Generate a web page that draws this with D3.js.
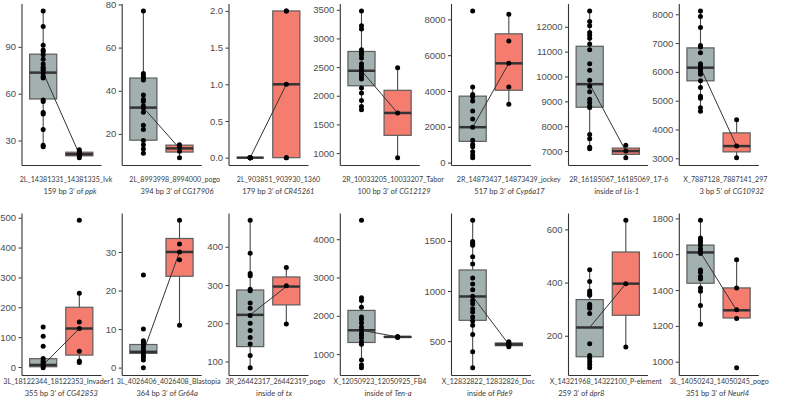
<!DOCTYPE html>
<html><head><meta charset="utf-8">
<script src="https://cdn.jsdelivr.net/npm/d3@7"></script>
<style>body{margin:0;background:#fff}svg{display:block}</style>
</head><body><svg id="chart" width="791" height="400"></svg>
<script>
// ---------------- DATA ----------------
const siteNames = [
  "2L_14381331_14381335_Ivk", "2L_8993998_8994000_pogo", "2L_903851_903930_1360",
  "2R_10033205_10033207_Tabor", "2R_14873437_14873439_jockey", "2R_16185067_16185069_17-6",
  "X_7887128_7887141_297",
  "3L_18122344_18122353_Invader1", "3L_4026406_4026408_Blastopia", "3R_26442317_26442319_pogo",
  "X_12050923_12050925_FB4", "X_12832822_12832826_Doc", "X_14321968_14322100_P-element",
  "3L_14050243_14050245_pogo"
];
const notePrefix = [
  "159 bp 3\u2019 of ", "394 bp 3\u2019 of ", "179 bp 3\u2019 of ", "100 bp 3\u2019 of ",
  "517 bp 3\u2019 of ", "inside of ", "3 bp 5\u2019 of ",
  "355 bp 3\u2019 of ", "364 bp 3\u2019 of ", "inside of ", "inside of ", "inside of ",
  "259 3\u2019 of ", "351 bp 3\u2019 of "
];
const geneNames = [
  "ppk", "CG17906", "CR45261", "CG12129", "Cyp6a17", "Lis-1", "CG10932",
  "CG42853", "Gr64a", "tx", "Ten-a", "Pde9", "dpr8", "Neurl4"
];
const groups = ["grey", "red"];
const yTickLabels = [
  ["30", "60", "90"],
  ["20", "40", "60", "80"],
  ["0.0", "0.5", "1.0", "1.5", "2.0"],
  ["1000", "1500", "2000", "2500", "3000", "3500"],
  ["0", "2000", "4000", "6000", "8000"],
  ["7000", "8000", "9000", "10000", "11000", "12000"],
  ["3000", "4000", "5000", "6000", "7000", "8000"],
  ["0", "100", "200", "300", "400", "500"],
  ["0", "10", "20", "30"],
  ["100", "200", "300", "400"],
  ["1000", "2000", "3000", "4000"],
  ["500", "1000", "1500"],
  ["200", "400", "600"],
  ["1000", "1200", "1400", "1600", "1800"]
];
const greyPoints = [
  [113, 103, 91, 88, 87, 85, 82, 79, 77, 76, 75, 73, 71, 70, 56, 55, 48, 47, 37, 27, 26],
  [77, 48, 47, 46, 45, 38, 36, 35, 33, 32, 30, 24, 22, 17, 15, 13, 11],
  [0, 0, 0, 0, 0, 0, 0, 0],
  [3480, 3221, 3163, 2802, 2755, 2715, 2657, 2558, 2511, 2465, 2424, 2384, 2337, 2291, 2134, 2047, 1918, 1812, 1756],
  [8473, 4228, 3805, 3680, 3438, 2889, 2433, 1977, 1241, 1021, 879, 604, 417, 275],
  [12637, 12211, 12040, 11773, 11670, 11534, 11311, 11072, 10515, 10249, 9851, 9612, 9386, 9082, 8952, 8816, 8753, 7662, 7491, 7157, 7093],
  [8116, 7921, 7543, 6915, 6867, 6661, 6284, 6205, 6091, 6009, 5920, 5690, 5460, 5150, 5082, 4752, 4636],
  [134, 103, 70, 29, 20, 15, 9, 3, -2],
  [24, 10, 7, 6.5, 6, 5.2, 4.5, 4, 3.3, 2.7, 2, 0],
  [469, 383, 330, 324, 289, 285, 253, 239, 220, 200, 181, 163, 146, 116, 84],
  [4492, 2470, 2400, 2226, 1967, 1900, 1812, 1708, 1640, 1553, 1493, 1423, 1320, 1259, 844, 715, 646],
  [1705, 1493, 1475, 1457, 1342, 1269, 1131, 1071, 1012, 948, 906, 873, 824, 790, 741, 700, 658, 566, 394, 236],
  [448, 404, 368, 360, 352, 318, 310, 303, 284, 170, 126, 115, 103, 92, 80],
  [1789, 1690, 1679, 1666, 1650, 1630, 1615, 1604, 1512, 1499, 1475, 1462, 1412, 1394, 1314, 1209]
];
const redPoints = [
  [19, 20, 21, 21, 22, 23, 24],
  [9, 12, 14, 15],
  [0, 0, 1, 2, 2],
  [920, 1700, 2490],
  [8292, 6788, 5546, 4228, 3256],
  [6735, 7000, 7237],
  [3022, 3424, 4341],
  [491, 247, 151, 129, 53, 20, 15],
  [38.2, 32.1, 30, 28, 11],
  [346, 298, 198],
  [1430, 1449, 1460],
  [444, 460, 468, 478, 493],
  [634, 396, 158],
  [1569, 1412, 1290, 1241, 967]
];
// box stats: [lower whisker, q1, median, q3, upper whisker]
const greyBoxes = [
  [26, 56.6, 73.5, 85.3, 113],
  [11, 17.1, 32.2, 45.9, 77],
  [0, 0, 0, 0, 0],
  [1756, 2174, 2436, 2773, 3480],
  [275, 1186, 1977, 3712, 4228],
  [7093, 8765, 9692, 11216, 12637],
  [4636, 5690, 6146, 6833, 8116],
  [-2, 1, 7, 28, 29],
  [2, 3.7, 4.1, 6, 7],
  [84, 139, 222, 287, 469],
  [646, 1303, 1622, 2141, 2470],
  [236, 708, 946, 1210, 1705],
  [80, 121, 231, 336, 448],
  [1209, 1438, 1610, 1651, 1789]
];
const redBoxes = [
  [19, 20.2, 21.2, 22.5, 24],
  [9, 11.6, 13.3, 14.8, 15],
  [0, 0, 1, 2, 2],
  [920, 1310, 1700, 2095, 2490],
  [3256, 4042, 5546, 7194, 8292],
  [6735, 6868, 7000, 7119, 7237],
  [3022, 3223, 3424, 3882, 4341],
  [15, 40, 129, 200, 247],
  [11, 23.7, 30, 33.5, 38.2],
  [198, 248, 296, 321, 346],
  [1430, 1440, 1449, 1455, 1460],
  [444, 455, 468, 482, 493],
  [158, 277, 396, 515, 634],
  [1241, 1244, 1287, 1412, 1569]
];

// ---------------- LAYOUT ----------------
const colLeft = [21.5, 121.7, 228.5, 339.8, 451, 568, 678.8];
const panelW = 79.5;
const rowsY = [{top: 3.6, bottom: 165, base1: 182.3, base2: 194.2},
               {top: 213, bottom: 375, base1: 384.3, base2: 396.3}];
const label1X = [66, 174.7, 278.5, 393, 508.8, 618.7, 725.3,
                 58.7, 168.7, 275.3, 380, 488.3, 605.8, 719.2];
const label2X = [70, 177, 278.3, 394, 509.5, 616.7, 731.7,
                 61.3, 167.2, 274, 388, 489.7, 581.3, 717.5];

const fills = {grey: "#A2B1B0", red: "#F47D70"};

const svg = d3.select("#chart");

siteNames.forEach((name, i) => {
  const row = Math.floor(i / 7), col = i % 7;
  const R = rowsY[row];
  const left = colLeft[col];
  const gp = greyPoints[i], rp = redPoints[i];
  const gb = greyBoxes[i], rb = redBoxes[i];
  const all = gp.concat(rp, gb, rb);
  const [mn, mx] = d3.extent(all);
  const pad = (mx - mn) * 0.05;
  const y = d3.scaleLinear().domain([mn - pad, mx + pad]).range([R.bottom, R.top]);
  const x = d3.scalePoint().domain(groups).range([left, left + panelW]).padding(0.6);
  const bw = x.step() * 0.75;

  const g = svg.append("g");

  const boxes = [{grp: "grey", b: gb}, {grp: "red", b: rb}];
  // whiskers
  g.selectAll("line.wh").data(boxes).join("line")
    .attr("x1", d => x(d.grp)).attr("x2", d => x(d.grp))
    .attr("y1", d => y(d.b[0])).attr("y2", d => y(d.b[4]))
    .attr("stroke", "#4a4a4a").attr("stroke-width", 1.1);
  // boxes
  g.selectAll("rect.bx").data(boxes).join("rect")
    .attr("x", d => x(d.grp) - bw / 2).attr("width", bw)
    .attr("y", d => y(d.b[3])).attr("height", d => Math.max(0, y(d.b[1]) - y(d.b[3])))
    .attr("fill", d => fills[d.grp])
    .attr("stroke", "#5c5c5c").attr("stroke-width", 1.2);
  // medians
  g.selectAll("line.md").data(boxes).join("line")
    .attr("x1", d => x(d.grp) - bw / 2).attr("x2", d => x(d.grp) + bw / 2)
    .attr("y1", d => y(d.b[2])).attr("y2", d => y(d.b[2]))
    .attr("stroke", "#333").attr("stroke-width", 2.5);
  // median connecting line
  g.append("path")
    .datum(boxes)
    .attr("d", d3.line().x(d => x(d.grp)).y(d => y(d.b[2])))
    .attr("fill", "none").attr("stroke", "#333").attr("stroke-width", 1);
  // points
  const pts = gp.map(v => ({grp: "grey", v})).concat(rp.map(v => ({grp: "red", v})));
  g.selectAll("circle").data(pts).join("circle")
    .attr("cx", d => x(d.grp)).attr("cy", d => y(d.v)).attr("r", 2.5)
    .attr("fill", "#000");

  // y axis
  const ticks = yTickLabels[i].map(Number);
  const ya = g.append("g").attr("transform", `translate(${left},0)`)
    .call(d3.axisLeft(y).tickValues(ticks).tickSize(3).tickSizeOuter(0).tickPadding(2.4)
      .tickFormat((d, k) => yTickLabels[i][k]));
  ya.select(".domain").attr("stroke", "#333").attr("stroke-width", 1.1);
  ya.selectAll(".tick line").attr("stroke", "#333").attr("stroke-width", 1);
  ya.selectAll(".tick text").attr("fill", "#4D4D4D")
    .style("font-family", "'Liberation Sans', Arial, sans-serif").style("font-size", "9.5px");
  // x axis line
  const xa = g.append("g").attr("transform", `translate(0,${R.bottom})`)
    .call(d3.axisBottom(d3.scaleLinear().range([left, left + panelW])).tickValues([]).tickSizeOuter(0));
  xa.select(".domain").attr("stroke", "#333").attr("stroke-width", 1.1);

  // labels
  const font = "Lato, 'Open Sans', sans-serif";
  svg.append("text").attr("x", label1X[i]).attr("y", R.base1)
    .attr("text-anchor", "middle").attr("fill", "#3a3a3a")
    .style("font-family", font).style("font-size", "7.1px").text(name);
  const t2 = svg.append("text").attr("x", label2X[i]).attr("y", R.base2)
    .attr("text-anchor", "middle").attr("fill", "#3a3a3a")
    .style("font-family", font).style("font-size", "7.5px");
  t2.append("tspan").text(notePrefix[i] + " ");
  t2.append("tspan").style("font-style", "italic").text(geneNames[i]);
});
</script>
</body></html>
